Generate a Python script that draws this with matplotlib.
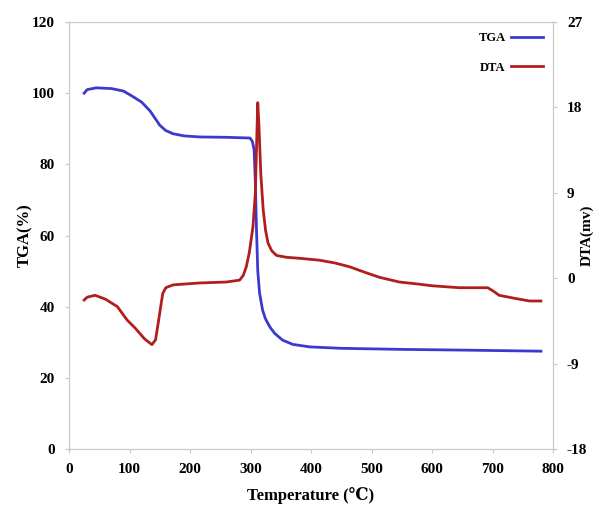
import numpy as np
import matplotlib.pyplot as plt

plt.rcParams['font.family'] = ['Liberation Serif', 'DejaVu Serif']
plt.rcParams['font.weight'] = 'bold'
plt.rcParams['axes.unicode_minus'] = False

# TGA curve: temperature (C) vs mass (%)
tga_t = [25, 30, 45, 70, 90, 106, 120, 134, 150, 160, 172, 190, 216, 260,
         299, 303, 306, 308, 310, 312, 315, 320, 325, 332, 340, 353, 370,
         398, 450, 550, 650, 780]
tga_w = [100, 101, 101.5, 101.3, 100.6, 99, 97.5, 95, 91, 89.5, 88.6, 88,
         87.7, 87.6, 87.4, 86.5, 84, 75, 61, 50, 43.8, 39, 36.5, 34.3, 32.5,
         30.6, 29.4, 28.7, 28.3, 28.0, 27.8, 27.5]

# DTA curve: temperature (C) vs signal (mv)
dta_t = [25, 30, 43, 60, 80, 96, 110, 125, 137, 143, 148, 152, 155, 160,
         172, 216, 260, 282, 288, 293, 298, 304, 308, 310, 312, 314, 317,
         321, 325, 329, 335, 343, 360, 381, 414, 440, 464, 490, 513, 546,
         575, 601, 645, 692, 700, 711, 735, 761, 780]
dta_v = [-2.3, -2.0, -1.8, -2.2, -3.0, -4.4, -5.3, -6.4, -7.0, -6.5, -4.5,
         -2.8, -1.6, -1.0, -0.7, -0.5, -0.4, -0.2, 0.3, 1.2, 2.7, 5.4, 9,
         14, 18.5, 16, 11, 7.2, 5, 3.7, 2.9, 2.4, 2.2, 2.1, 1.9, 1.6, 1.2,
         0.6, 0.1, -0.4, -0.6, -0.8, -1.0, -1.0, -1.3, -1.8, -2.1, -2.4, -2.4]

fig = plt.figure(figsize=(5.97, 5.12), dpi=100)
ax = fig.add_axes([0.1156, 0.123, 0.8107, 0.834])
ax2 = ax.twinx()

l1, = ax.plot(tga_t, tga_w, color='#3a3ad0', lw=2, label='TGA')
l2, = ax2.plot(dta_t, dta_v, color='#b01e1e', lw=2, label='DTA')

ax.set_xlim(0, 800)
ax.set_ylim(0, 120)
ax2.set_ylim(-18, 27)
ax.set_xticks(np.arange(0, 801, 100))
ax.set_yticks(np.arange(0, 121, 20))
ax2.set_yticks(np.arange(-18, 28, 9))

for a in (ax, ax2):
    for s in a.spines.values():
        s.set_color('#c8c8c8')
    a.tick_params(colors='#c8c8c8', labelcolor='black', labelsize=11,
                  length=3, width=0.8, pad=7)

ax.set_xlabel('Temperature (\u2103)', fontsize=12, fontweight='bold', labelpad=8)
ax.set_ylabel('TGA(%)', fontsize=12, fontweight='bold')
ax.yaxis.set_label_coords(-0.075, 0.5)
ax2.set_ylabel('DTA(mv)', fontsize=11, fontweight='bold')
ax2.yaxis.set_label_coords(1.057, 0.5)

ax.legend(handles=[l1, l2], loc='upper right', frameon=False,
          markerfirst=False, fontsize=9, handlelength=2.6,
          handletextpad=0.4, labelspacing=1.4, borderpad=0.3,
          borderaxespad=0.5)

fig.savefig('out.png', dpi=100)
